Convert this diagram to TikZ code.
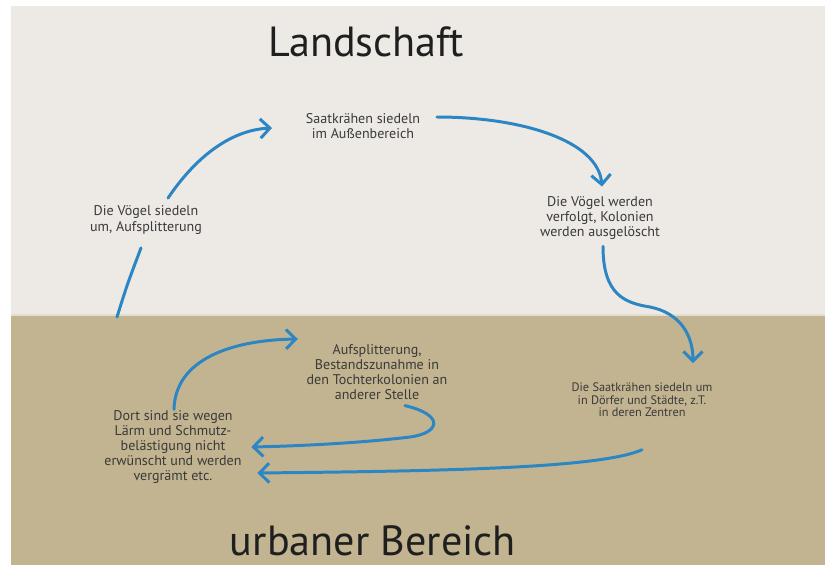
\documentclass[tikz,border=0pt]{standalone}
\usepackage{fontspec}
\setmainfont{PT Sans}
\usepackage{tikz}
\usetikzlibrary{arrows.meta,calc}

\definecolor{himmel}{HTML}{EDEAE6}
\definecolor{boden}{HTML}{C2B490}
\definecolor{blau}{HTML}{2B86C3}
\definecolor{schrift}{HTML}{3A3A3A}

\begin{document}
\begin{tikzpicture}[x=0.02cm,y=-0.02cm,
    >={Straight Barb[length=5.5pt,width=11pt]},
    pfeil/.style={->,draw=blau,line width=1.7pt,line cap=round},
    info/.style={align=center,text=schrift,inner sep=2pt,
      font=\fontsize{8}{8.6}\selectfont},
    klein/.style={info,font=\fontsize{7}{7.1}\selectfont},
    titel/.style={text=black!88,inner sep=0pt,font=\fontsize{24}{26}\selectfont}]
    \useasboundingbox (0,0) rectangle (825,565);
    \fill[himmel] (11,6) rectangle (825,315);
    \fill[boden] (11,315) rectangle (825,565);
    \draw[boden!45!white,line width=0.8pt] (11,315) -- (825,315);

    \node[titel] (l) at (366,42) {Landschaft};
    \node[titel] (u) at (373,541) {urbaner Bereich};

    \node[info] (a) at (363,126) {Saatkrähen siedeln\\im Außenbereich};
    \node[info] (b) at (600,218) {Die Vögel werden\\verfolgt, Kolonien\\werden ausgelöscht};
    \node[klein] (c) at (642,400) {Die Saatkrähen siedeln um\\in Dörfer und Städte, z.T.\\in deren Zentren};
    \node[info] (d) at (173,447) {Dort sind sie wegen\\Lärm und Schmutz-\\belästigung nicht\\erwünscht und werden\\vergrämt etc.};
    \node[info] (e) at (377,372) {Aufsplitterung,\\Bestandszunahme in\\den Tochterkolonien an\\anderer Stelle};
    \node[info] (f) at (146,220) {Die Vögel siedeln\\um, Aufsplitterung};
    \coordinate (g) at (117,317);

    \draw[pfeil,-] (g) .. controls (127,285) .. ($(f.south)+(-5,10)$);
    \draw[pfeil] ($(f.north)+(22,-4)$) .. controls (195,158) and (230,130) .. ($(a.west)+(-30,2)$);
    \draw[pfeil] ($(a.east)+(13,-9)$) .. controls (520,117) and (598,140) .. ($(b.north)+(2,-6)$);
    \draw[pfeil] ($(b.south)+(3,3)$) .. controls (603,295) and (625,303) .. (650,307)
      .. controls (680,313) and (693,335) .. ($(c.north)+(51,-16)$);
    \draw[pfeil] ($(c.south)+(0,29)$) .. controls (600,468) and (450,471) .. ($(d.east)+(12,26)$);
    \draw[pfeil] ($(e.south)+(28,2)$) .. controls (445,415) and (440,433) .. (410,437)
      .. controls (360,443) and (300,446) .. ($(d.east)+(6,0)$);
    \draw[pfeil] ($(d.north)+(1,3)$) .. controls (175,360) and (230,340) .. ($(e.west)+(-5,-33)$);
\end{tikzpicture}
\end{document}
